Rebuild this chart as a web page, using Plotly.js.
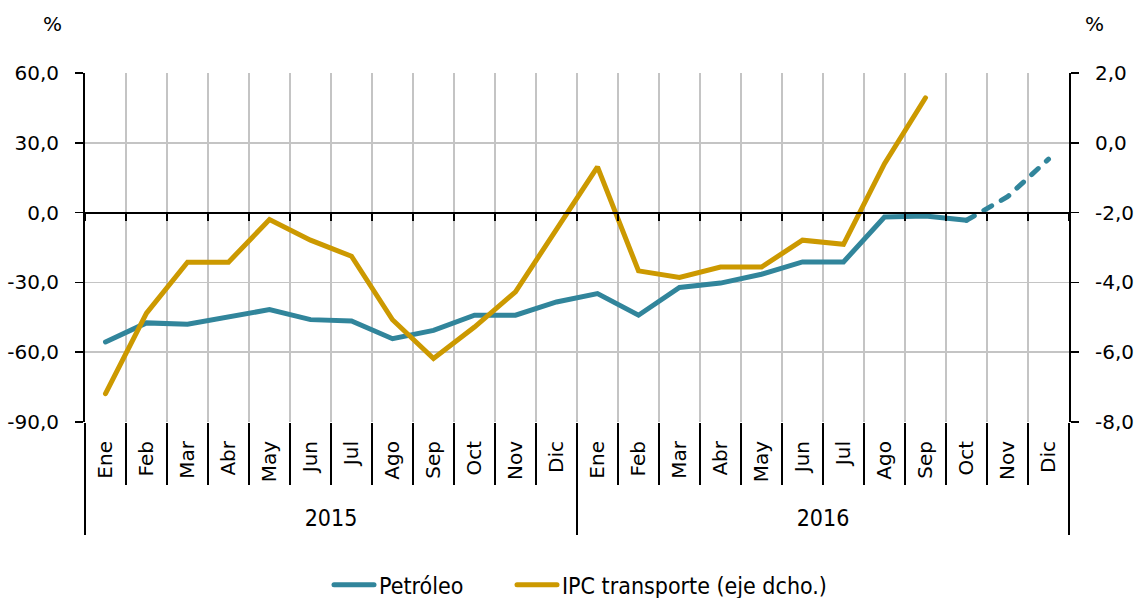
<!DOCTYPE html>
<html>
<head>
<meta charset="utf-8">
<script src="https://cdn.plot.ly/plotly-3.0.1.min.js"></script>
<style>
  html, body { margin: 0; padding: 0; background: #fff; }
  #chart { width: 1136px; height: 598px; }
  .js-line { stroke-linecap: round; }
</style>
</head>
<body>
<div id="chart"></div>
<script>
// ---- data ----
var months = ['Ene','Feb','Mar','Abr','May','Jun','Jul','Ago','Sep','Oct','Nov','Dic',
              'Ene','Feb','Mar','Abr','May','Jun','Jul','Ago','Sep','Oct','Nov','Dic'];
var years = ['2015', '2016'];
var petroleo = [-55.6, -47.4, -48.0, -45.0, -41.7, -46.0, -46.6, -54.2, -50.6, -44.1, -44.1, -38.4,
                -34.8, -44.1, -32.2, -30.3, -26.5, -21.2, -21.2, -1.9, -1.5, -3.3, null, null];
var petroleoProy = [null, null, null, null, null, null, null, null, null, null, null, null,
                    null, null, null, null, null, null, null, null, null, -3.3, 6.8, 23.0];
var ipcTransporte = [-7.19, -4.88, -3.42, -3.42, -2.20, -2.79, -3.25, -5.07, -6.18, -5.28, -4.27, -2.51,
                     -0.69, -3.67, -3.86, -3.56, -3.56, -2.79, -2.91, -0.60, 1.29, null, null, null];
var leftTicks = [60, 30, 0, -30, -60, -90];
var rightTicks = [2, 0, -2, -4, -6, -8];

// ---- helpers ----
var xIdx = months.map(function (_, i) { return i; });
var bounds = [];
for (var i = 0; i <= months.length; i++) bounds.push(i - 0.5);
var yearCenters = years.map(function (_, k) { return k * 12 + 5.5; });
var yearBounds = [-0.5, 11.5, 23.5];
function fmt(v) { return v.toFixed(1).replace('.', ','); }
var xr = [-0.5, months.length - 0.5];

var TEAL = 'rgb(49,133,155)';
var GOLD = 'rgb(204,153,0)';
var GRID = '#c4c4c4';
var FONT = 'DejaVu Sans, sans-serif';
var FONTC = 'DejaVu Sans Condensed, DejaVu Sans, sans-serif';

function holder(xa) {
  return { x: [], y: [], type: 'scatter', mode: 'lines', xaxis: xa, yaxis: 'y',
           showlegend: false, hoverinfo: 'skip' };
}

var traces = [
  holder('x2'), holder('x3'), holder('x4'), holder('x5'),
  { x: xIdx, y: petroleo, name: 'Petróleo', type: 'scatter', mode: 'lines',
    line: { color: TEAL, width: 5 }, xaxis: 'x', yaxis: 'y', hoverinfo: 'skip', legend: 'legend' },
  { x: xIdx, y: ipcTransporte, name: 'IPC transporte (eje dcho.)', type: 'scatter', mode: 'lines',
    line: { color: GOLD, width: 5 }, xaxis: 'x', yaxis: 'y2', hoverinfo: 'skip', legend: 'legend2' },
  { x: xIdx, y: petroleoProy, name: 'Petróleo (proy.)', type: 'scatter', mode: 'lines',
    line: { color: TEAL, width: 5, dash: '9px,11px' }, xaxis: 'x', yaxis: 'y',
    showlegend: false, hoverinfo: 'skip' }
];

function legendAt(xpx) {
  return { orientation: 'h', xref: 'container', yref: 'container',
           x: xpx / 1136, xanchor: 'left', y: 0.022, yanchor: 'middle',
           font: { family: FONTC, size: 23, color: '#000' }, itemwidth: 40 };
}

var layout = {
  width: 1136, height: 598,
  margin: { l: 85, r: 67, t: 73, b: 176, pad: 0, autoexpand: false },
  paper_bgcolor: '#fff', plot_bgcolor: 'rgba(0,0,0,0)',
  font: { family: FONT, size: 20, color: '#000' },
  showlegend: true,
  legend: legendAt(329),
  legend2: legendAt(512),
  xaxis: { range: xr, tickmode: 'array', tickvals: xIdx, ticktext: months, tickangle: -90,
           ticks: '', showgrid: false, zeroline: false, showline: false, automargin: false,
           ticklabelstandoff: 14, tickfont: { family: FONT, size: 20, color: '#000' }, fixedrange: true },
  xaxis2: { overlaying: 'x', anchor: 'y', range: xr, tickmode: 'array', tickvals: bounds,
            ticks: 'outside', ticklen: 62, tickwidth: 1.3, tickcolor: '#000',
            showticklabels: false, showgrid: true, gridcolor: GRID, gridwidth: 1.3,
            zeroline: false, showline: false },
  xaxis3: { overlaying: 'x', anchor: 'y', range: xr, tickmode: 'array', tickvals: yearBounds,
            ticks: 'outside', ticklen: 112, tickwidth: 1.3, tickcolor: '#000',
            showticklabels: false, showgrid: false, zeroline: false, showline: false },
  xaxis4: { overlaying: 'x', anchor: 'y', range: xr, tickmode: 'array', tickvals: yearCenters,
            ticktext: years, ticks: '', showgrid: false, zeroline: false, showline: false, automargin: false,
            ticklabelstandoff: 80, tickfont: { family: FONTC, size: 23, color: '#000' } },
  xaxis5: { overlaying: 'x', anchor: 'free', position: 0.6, range: xr, tickmode: 'array',
            tickvals: bounds, ticks: 'outside', ticklen: 7, tickwidth: 1.5, tickcolor: '#000',
            showticklabels: false, showgrid: false, zeroline: false,
            showline: true, linecolor: '#000', linewidth: 2 },
  yaxis: { range: [-90, 60], tickmode: 'array', tickvals: leftTicks, ticktext: leftTicks.map(fmt),
           ticks: 'outside', ticklen: 8, tickwidth: 1.5, tickcolor: '#000',
           showline: true, linecolor: '#000', linewidth: 2,
           showgrid: true, gridcolor: GRID, gridwidth: 1.5,
           zeroline: true, zerolinecolor: '#000', zerolinewidth: 2,
           ticklabelstandoff: 12, tickfont: { family: FONT, size: 20, color: '#000' }, fixedrange: true },
  yaxis2: { overlaying: 'y', side: 'right', anchor: 'x', range: [-8, 2], tickmode: 'array',
            tickvals: rightTicks, ticktext: rightTicks.map(fmt),
            ticks: 'outside', ticklen: 8, tickwidth: 1.5, tickcolor: '#000',
            showline: true, linecolor: '#000', linewidth: 2,
            showgrid: false, zeroline: false,
            ticklabelstandoff: 12, tickfont: { family: FONT, size: 20, color: '#000' }, fixedrange: true },
  annotations: [
    { text: '%', xref: 'paper', yref: 'paper', x: -0.033, y: 1.14, showarrow: false,
      xanchor: 'center', yanchor: 'middle', font: { family: FONT, size: 20, color: '#000' } },
    { text: '%', xref: 'paper', yref: 'paper', x: 1.026, y: 1.14, showarrow: false,
      xanchor: 'center', yanchor: 'middle', font: { family: FONT, size: 20, color: '#000' } }
  ]
};

Plotly.newPlot('chart', traces, layout, { staticPlot: true, displayModeBar: false });
</script>
</body>
</html>
